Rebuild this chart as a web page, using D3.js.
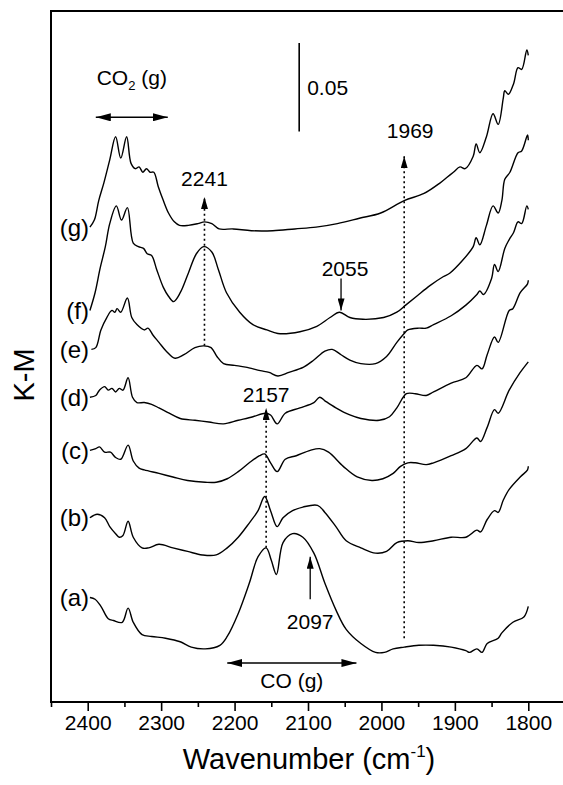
<!DOCTYPE html>
<html>
<head>
<meta charset="utf-8">
<script src="https://cdn.jsdelivr.net/npm/d3@7"></script>
<style>
  body { margin: 0; background: #fff; }
  text { font-family: "Liberation Sans", Arial, sans-serif; fill: #000; }
</style>
</head>
<body>
<svg id="chart" width="563" height="785"></svg>
<script>
// DRIFTS spectra, stacked (wavenumber cm-1, K-M incl. offset)
const spectrumA = [[2397,0.059],[2390,0.058],[2382,0.054],[2372,0.047],[2365,0.046],[2353,0.045],[2345,0.053],[2338,0.045],[2326,0.038],[2313,0.037],[2294,0.036],[2274,0.034],[2259,0.031],[2240,0.030],[2220,0.032],[2210,0.037],[2195,0.050],[2180,0.067],[2168,0.082],[2157,0.087],[2150,0.080],[2143,0.072],[2134,0.090],[2121,0.095],[2107,0.093],[2092,0.084],[2077,0.067],[2062,0.052],[2048,0.041],[2028,0.033],[2008,0.028],[1996,0.028],[1984,0.030],[1969,0.031],[1949,0.032],[1929,0.032],[1905,0.031],[1885,0.029],[1880,0.028],[1870,0.030],[1863,0.028],[1856,0.033],[1841,0.036],[1836,0.039],[1821,0.045],[1806,0.048],[1800,0.054]];
const spectrumB = [[2397,0.104],[2387,0.106],[2377,0.104],[2370,0.099],[2362,0.095],[2357,0.093],[2352,0.094],[2345,0.102],[2338,0.093],[2326,0.087],[2317,0.087],[2303,0.089],[2284,0.087],[2264,0.085],[2244,0.083],[2225,0.083],[2210,0.087],[2195,0.093],[2180,0.101],[2168,0.108],[2159,0.116],[2151,0.108],[2142,0.099],[2134,0.104],[2121,0.108],[2107,0.110],[2087,0.111],[2077,0.107],[2062,0.099],[2048,0.091],[2028,0.087],[2008,0.084],[1993,0.085],[1979,0.090],[1964,0.091],[1949,0.090],[1929,0.091],[1905,0.093],[1885,0.093],[1870,0.097],[1865,0.096],[1856,0.103],[1846,0.108],[1841,0.107],[1834,0.114],[1826,0.120],[1811,0.127],[1801,0.131],[1800,0.133]];
const spectrumC = [[2397,0.142],[2389,0.143],[2384,0.144],[2377,0.141],[2369,0.141],[2362,0.138],[2355,0.137],[2345,0.145],[2338,0.136],[2330,0.132],[2323,0.131],[2303,0.129],[2284,0.127],[2264,0.125],[2240,0.124],[2225,0.124],[2210,0.126],[2195,0.130],[2180,0.135],[2166,0.139],[2159,0.140],[2151,0.135],[2142,0.130],[2131,0.137],[2116,0.139],[2097,0.142],[2084,0.143],[2072,0.141],[2052,0.133],[2033,0.127],[2013,0.125],[1998,0.126],[1984,0.129],[1974,0.133],[1964,0.135],[1954,0.135],[1939,0.134],[1929,0.135],[1905,0.139],[1885,0.143],[1870,0.149],[1865,0.147],[1856,0.155],[1846,0.165],[1841,0.163],[1826,0.176],[1811,0.186],[1800,0.192]];
const spectrumD = [[2397,0.172],[2389,0.173],[2384,0.176],[2377,0.178],[2372,0.176],[2367,0.177],[2362,0.175],[2357,0.177],[2352,0.176],[2345,0.183],[2339,0.172],[2333,0.169],[2323,0.169],[2313,0.168],[2303,0.166],[2289,0.163],[2274,0.160],[2254,0.159],[2235,0.158],[2215,0.157],[2195,0.159],[2175,0.161],[2158,0.163],[2151,0.162],[2142,0.157],[2131,0.163],[2111,0.166],[2092,0.169],[2084,0.172],[2077,0.170],[2062,0.166],[2043,0.162],[2028,0.160],[2003,0.159],[1989,0.161],[1979,0.166],[1966,0.174],[1954,0.174],[1939,0.173],[1929,0.175],[1905,0.180],[1885,0.183],[1870,0.190],[1863,0.188],[1856,0.196],[1846,0.206],[1841,0.203],[1826,0.221],[1821,0.222],[1811,0.231],[1801,0.236],[1800,0.238]];
const spectrumE = [[2395,0.199],[2389,0.200],[2382,0.210],[2374,0.217],[2367,0.221],[2363,0.220],[2360,0.222],[2355,0.220],[2346,0.228],[2340,0.217],[2333,0.213],[2323,0.210],[2318,0.211],[2311,0.207],[2303,0.203],[2293,0.198],[2281,0.194],[2269,0.196],[2254,0.200],[2242,0.201],[2232,0.200],[2224,0.195],[2215,0.191],[2200,0.190],[2185,0.189],[2165,0.187],[2153,0.186],[2141,0.184],[2126,0.186],[2106,0.189],[2092,0.193],[2077,0.198],[2067,0.199],[2055,0.196],[2043,0.193],[2028,0.191],[2008,0.191],[1993,0.195],[1979,0.203],[1969,0.208],[1964,0.210],[1949,0.211],[1939,0.211],[1929,0.213],[1905,0.218],[1885,0.224],[1870,0.230],[1866,0.232],[1861,0.230],[1850,0.239],[1846,0.247],[1841,0.243],[1832,0.256],[1826,0.261],[1820,0.265],[1814,0.271],[1809,0.270],[1802,0.280],[1800,0.278]];
const spectrumF = [[2397,0.221],[2390,0.231],[2383,0.245],[2376,0.257],[2370,0.270],[2361,0.280],[2354,0.272],[2346,0.279],[2338,0.259],[2331,0.257],[2324,0.256],[2319,0.253],[2313,0.252],[2306,0.244],[2297,0.234],[2290,0.229],[2283,0.226],[2274,0.231],[2263,0.242],[2252,0.253],[2242,0.257],[2231,0.254],[2222,0.244],[2211,0.231],[2193,0.220],[2175,0.213],[2156,0.210],[2141,0.208],[2111,0.209],[2088,0.212],[2070,0.217],[2057,0.220],[2043,0.217],[2025,0.216],[1997,0.217],[1979,0.220],[1967,0.224],[1952,0.229],[1934,0.235],[1916,0.240],[1907,0.242],[1890,0.249],[1875,0.257],[1871,0.262],[1866,0.258],[1857,0.269],[1848,0.280],[1841,0.276],[1836,0.283],[1832,0.295],[1825,0.299],[1814,0.310],[1809,0.311],[1801,0.320],[1800,0.317]];
const spectrumG = [[2397,0.268],[2391,0.272],[2385,0.283],[2378,0.293],[2370,0.306],[2362,0.319],[2355,0.307],[2347,0.319],[2341,0.304],[2335,0.301],[2330,0.302],[2325,0.299],[2320,0.301],[2315,0.299],[2310,0.299],[2304,0.291],[2297,0.283],[2290,0.276],[2282,0.271],[2275,0.269],[2263,0.269],[2250,0.270],[2241,0.271],[2231,0.270],[2221,0.267],[2202,0.267],[2177,0.266],[2148,0.266],[2118,0.267],[2089,0.268],[2060,0.270],[2030,0.273],[2001,0.276],[1969,0.283],[1942,0.287],[1920,0.293],[1911,0.296],[1902,0.299],[1893,0.302],[1886,0.301],[1875,0.308],[1871,0.315],[1866,0.310],[1857,0.319],[1848,0.332],[1841,0.326],[1834,0.341],[1832,0.345],[1827,0.343],[1820,0.349],[1814,0.358],[1809,0.357],[1802,0.368],[1800,0.365]];

const spectra = [spectrumA, spectrumB, spectrumC, spectrumD, spectrumE, spectrumF, spectrumG];
const spectrumLabels = ["(a)", "(b)", "(c)", "(d)", "(e)", "(f)", "(g)"];
const majorTicks = [2400, 2300, 2200, 2100, 2000, 1900, 1800];
const minorTicks = [2450, 2350, 2250, 2150, 2050, 1950, 1850];

// band positions marked on the plot
const bandDotted = [
  { wn: 2241, label: "2241", top: 0.285, bottom: 0.201 },
  { wn: 2157, label: "2157", top: 0.166, bottom: 0.087 },
  { wn: 1969, label: "1969", top: 0.308, bottom: 0.036 }
];
const bandSolid = [
  { wn: 2055, label: "2055", from: 0.239, to: 0.221 },
  { wn: 2097, label: "2097", from: 0.058, to: 0.082 }
];
const scaleBarSize = 0.05;

const svg = d3.select("#chart");
const plotLeft = 51, plotTop = 11, plotRight = 565, plotBottom = 702;

const x = d3.scaleLinear().domain([2450, 1750]).range([plotLeft, plotRight]);
const y = d3.scaleLinear().domain([0, 0.39]).range([plotBottom, plotTop]);

// arrowhead markers
const defs = svg.append("defs");
function addHead(id, len, wid) {
  defs.append("marker")
    .attr("id", id)
    .attr("viewBox", "0 0 10 10")
    .attr("refX", 10).attr("refY", 5)
    .attr("markerUnits", "userSpaceOnUse")
    .attr("markerWidth", len).attr("markerHeight", wid)
    .attr("preserveAspectRatio", "none")
    .attr("orient", "auto-start-reverse")
    .append("path").attr("d", "M0,0 L10,5 L0,10 z").attr("fill", "#000");
}
addHead("head", 12, 7);
addHead("headWide", 15, 8);

// frame
svg.append("rect")
  .attr("x", plotLeft).attr("y", plotTop)
  .attr("width", plotRight - plotLeft).attr("height", plotBottom - plotTop)
  .attr("fill", "none").attr("stroke", "#000").attr("stroke-width", 2);

// bottom axis
const gx = svg.append("g").attr("transform", `translate(0,${plotBottom})`);
gx.call(d3.axisBottom(x).tickValues(majorTicks).tickSize(9).tickPadding(4).tickFormat(d3.format("d")));
gx.append("g").call(d3.axisBottom(x).tickValues(minorTicks).tickSize(5).tickFormat(""));
gx.selectAll(".domain").remove();
gx.selectAll("line").attr("stroke", "#000").attr("stroke-width", 1.6);
gx.selectAll("text").attr("font-size", 21).attr("font-family", "Liberation Sans, Arial, sans-serif").attr("fill", "#000");

// axis titles
const xt = svg.append("text").attr("x", (plotLeft + plotRight) / 2 + 1).attr("y", 769)
  .attr("text-anchor", "middle").attr("font-size", 29);
xt.append("tspan").text("Wavenumber (cm");
xt.append("tspan").attr("font-size", 17).attr("dy", -12).text("-1");
xt.append("tspan").attr("dy", 12).text(")");

svg.append("text")
  .attr("transform", "translate(34,375) rotate(-90)")
  .attr("text-anchor", "middle").attr("font-size", 29).text("K-M");

// spectra
const line = d3.line()
  .x(d => x(d[0])).y(d => y(d[1]))
  .curve(d3.curveCatmullRom.alpha(0.5));

svg.append("g").selectAll("path").data(spectra).join("path")
  .attr("d", line)
  .attr("fill", "none").attr("stroke", "#000")
  .attr("stroke-width", 1.4).attr("stroke-linejoin", "round");

svg.append("g").selectAll("text").data(spectra).join("text")
  .attr("x", 89).attr("y", d => y(d[0][1]))
  .attr("dy", "0.35em").attr("text-anchor", "end").attr("font-size", 24)
  .text((d, i) => spectrumLabels[i]);

// dotted band markers
bandDotted.forEach(b => {
  svg.append("line")
    .attr("x1", x(b.wn)).attr("x2", x(b.wn))
    .attr("y1", y(b.bottom)).attr("y2", y(b.top))
    .attr("stroke", "#000").attr("stroke-width", 1.6)
    .attr("stroke-dasharray", "2,3")
    .attr("marker-end", "url(#head)");
});
const dotLabelGap = { "2241": 11, "2157": 6, "1969": 18 };
bandDotted.forEach(b => {
  svg.append("text").attr("x", x(b.wn) + (b.wn === 1969 ? 6 : 0))
    .attr("y", y(b.top) - dotLabelGap[b.label])
    .attr("text-anchor", "middle").attr("font-size", 21).text(b.label);
});

// solid band markers
bandSolid.forEach(b => {
  svg.append("line")
    .attr("x1", x(b.wn)).attr("x2", x(b.wn))
    .attr("y1", y(b.from)).attr("y2", y(b.to))
    .attr("stroke", "#000").attr("stroke-width", 1.3)
    .attr("marker-end", "url(#head)");
});
svg.append("text").attr("x", x(2055) + 4).attr("y", y(0.239) - 3)
  .attr("text-anchor", "middle").attr("font-size", 21).text("2055");
svg.append("text").attr("x", x(2097)).attr("y", y(0.058) + 30)
  .attr("text-anchor", "middle").attr("font-size", 21).text("2097");

// gas-phase ranges
function doubleArrow(w1, w2, py) {
  svg.append("line")
    .attr("x1", x(w1)).attr("x2", x(w2)).attr("y1", py).attr("y2", py)
    .attr("stroke", "#000").attr("stroke-width", 1.6)
    .attr("marker-start", "url(#headWide)").attr("marker-end", "url(#headWide)");
}
doubleArrow(2389, 2291, y(0.33));
const co2 = svg.append("text").attr("x", x(2340)).attr("y", y(0.348))
  .attr("text-anchor", "middle").attr("font-size", 21);
co2.append("tspan").text("CO");
co2.append("tspan").attr("font-size", 13).attr("dy", 5).text("2");
co2.append("tspan").attr("dy", -5).text(" (g)");

doubleArrow(2210, 2034, y(0.022));
svg.append("text").attr("x", x(2122)).attr("y", y(0.008))
  .attr("text-anchor", "middle").attr("font-size", 21).text("CO (g)");

// intensity scale bar
svg.append("line")
  .attr("x1", x(2112)).attr("x2", x(2112))
  .attr("y1", y(0.372)).attr("y2", y(0.372 - scaleBarSize))
  .attr("stroke", "#000").attr("stroke-width", 1.6);
svg.append("text").attr("x", x(2112) + 8).attr("y", y(0.347) + 8)
  .attr("font-size", 21).text("0.05");
</script>
</body>
</html>
